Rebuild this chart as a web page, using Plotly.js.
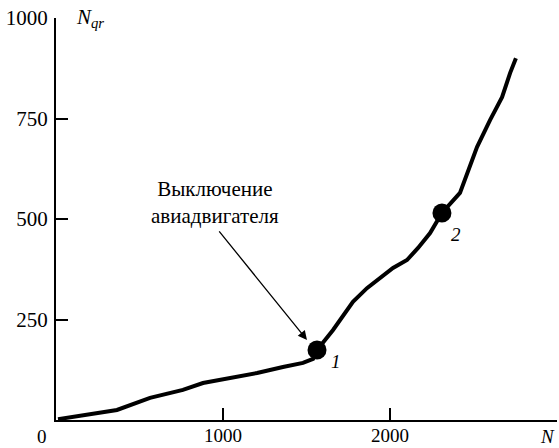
<!DOCTYPE html>
<html>
<head>
<meta charset="utf-8">
<script src="https://cdn.plot.ly/plotly-3.0.1.min.js"></script>
<style>html,body{margin:0;padding:0;background:#fff;}#chart{width:559px;height:448px;}</style>
</head>
<body>
<div id="chart"></div>
<script>
// Curve N -> N_qr
var curveN   = [12, 162, 365, 563, 760, 880, 1042, 1204, 1359, 1479, 1539, 1563, 1659, 1719, 1778, 1862, 1940, 2018, 2102, 2168, 2240, 2311, 2419, 2461, 2521, 2599, 2671, 2719, 2754];
var curveNqr = [2, 12, 25, 55, 75, 92, 104, 117, 132, 142, 152, 174, 224, 261, 294, 328, 353, 378, 398, 428, 465, 515, 565, 614, 679, 746, 803, 863, 900];
// Marked points 1 and 2
var pointN   = [1563, 2311];
var pointNqr = [174, 515];
var pointLabels = ['1', '2'];
// Ticks
var xTickVals = [1000, 2000, 3000];
var xTickText = ['1000', '2000', ''];
var yTickVals = [250, 500, 750, 1000];
var yTickText = ['250', '500', '750', '1000'];
var annotationText = 'Выключение<br>авиадвигателя';
// Arrow (tail -> head) in data units
var arrowTail = [970, 473];
var arrowHead = [1503, 199];

var font = {family: 'Liberation Serif, Times New Roman, serif', size: 19, color: '#000'};
var textFont = {family: 'Liberation Serif, Times New Roman, serif', size: 21, color: '#000'};

var traces = [
  {x: curveN, y: curveNqr, mode: 'lines', type: 'scatter',
   line: {color: '#000', width: 4, shape: 'linear'}, hoverinfo: 'skip'},
  {x: pointN, y: pointNqr, mode: 'markers', type: 'scatter',
   marker: {color: '#000', size: 19}, hoverinfo: 'skip'}
];

var layout = {
  width: 559, height: 448,
  margin: {l: 56, r: 2, t: 18, b: 28},
  paper_bgcolor: '#fff', plot_bgcolor: '#fff',
  showlegend: false,
  font: font,
  xaxis: {range: [0, 3000], showgrid: false, zeroline: false, showline: true,
          linecolor: '#000', linewidth: 2, ticks: 'inside', ticklen: 12, tickwidth: 2,
          tickcolor: '#000', tickvals: xTickVals, ticktext: xTickText, tickfont: font,
          ticklabelstandoff: -3, fixedrange: true},
  yaxis: {range: [0, 1000], showgrid: false, zeroline: false, showline: true,
          linecolor: '#000', linewidth: 2, ticks: 'inside', ticklen: 12, tickwidth: 2,
          tickcolor: '#000', tickvals: yTickVals, ticktext: yTickText, tickfont: textFont,
          ticklabelstandoff: 2, fixedrange: true},
  annotations: [
    {xref: 'paper', yref: 'paper', x: -0.028, y: -0.01, text: '0', showarrow: false,
     xanchor: 'center', yanchor: 'top', font: font},
    {xref: 'paper', yref: 'paper', x: 0.982, y: -0.01, text: '<i>N</i>', showarrow: false,
     xanchor: 'center', yanchor: 'top', font: font},
    {xref: 'paper', yref: 'paper', x: 0.035, y: 1.0, text: '<i>N</i><sub><i>qr</i></sub>', showarrow: false,
     xanchor: 'left', yanchor: 'middle', font: textFont},
    {xref: 'x', yref: 'y', x: arrowHead[0], y: arrowHead[1], ax: arrowTail[0], ay: arrowTail[1],
     axref: 'x', ayref: 'y',
     text: '', showarrow: true, arrowhead: 2, arrowsize: 1.4, arrowwidth: 1.3, arrowcolor: '#000'},
    {xref: 'paper', yref: 'paper', x: 0.318, y: 0.54, text: annotationText, showarrow: false,
     xanchor: 'center', yanchor: 'middle', font: textFont, align: 'center'},
    {xref: 'x', yref: 'y', x: pointN[0], y: pointNqr[0], xshift: 19, yshift: -11,
     text: '<i>' + pointLabels[0] + '</i>', showarrow: false, font: font},
    {xref: 'x', yref: 'y', x: pointN[1], y: pointNqr[1], xshift: 14, yshift: -22,
     text: '<i>' + pointLabels[1] + '</i>', showarrow: false, font: font}
  ]
};

Plotly.newPlot('chart', traces, layout, {staticPlot: true, displayModeBar: false});
</script>
</body>
</html>
